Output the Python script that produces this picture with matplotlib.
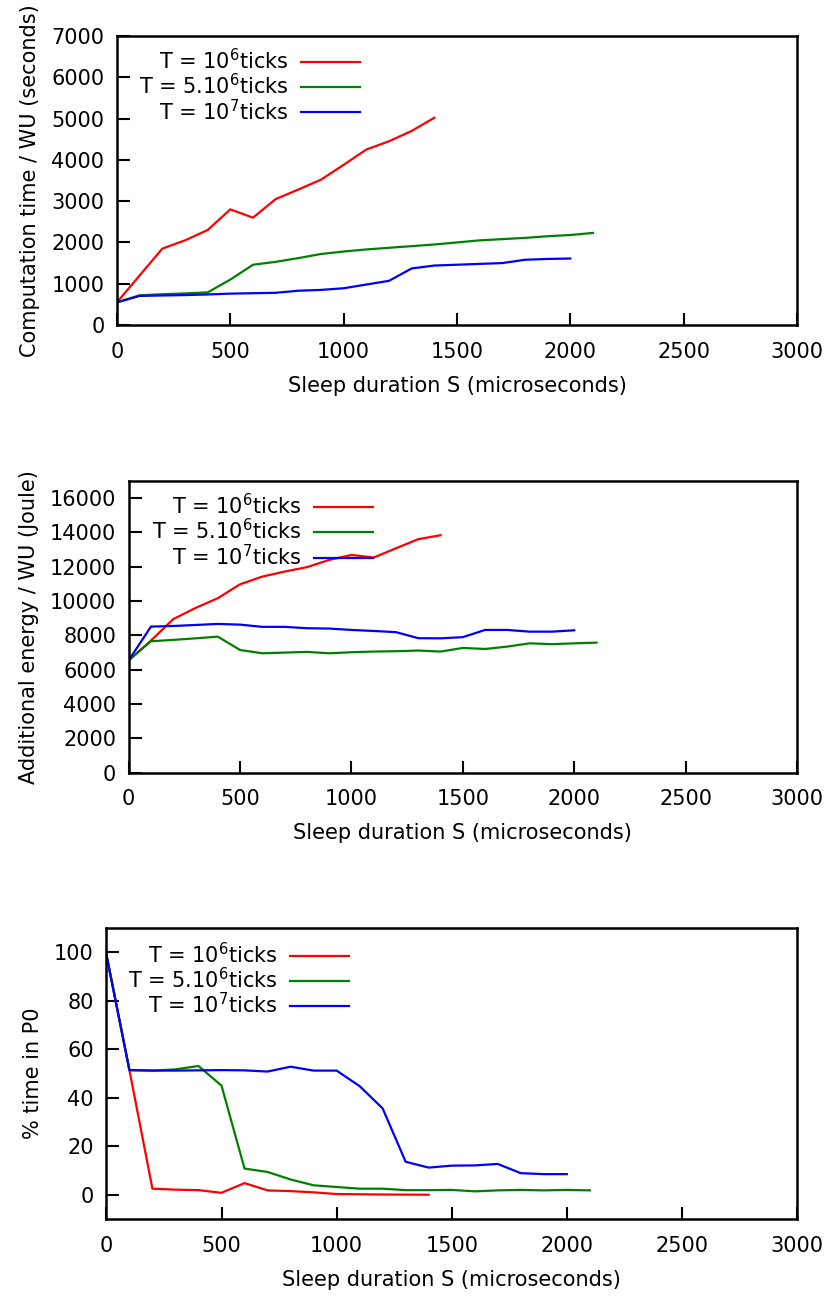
import numpy as np
import matplotlib
matplotlib.use("Agg")
import matplotlib.pyplot as plt

plt.rcParams['font.family'] = ['DejaVu Sans']
plt.rcParams['font.size'] = 15
plt.rcParams['mathtext.fontset'] = 'dejavusans'

# sleep durations (microseconds)
x_1e6 = np.arange(0, 1500, 100)
x_5e6 = np.arange(0, 2200, 100)
x_1e7 = np.arange(0, 2100, 100)

# computation time / WU (seconds)
time_1e6 = [550, 1200, 1850, 2050, 2300, 2800, 2600, 3050, 3280, 3520, 3880, 4250, 4450, 4700, 5020]
time_5e6 = [550, 720, 745, 765, 790, 1100, 1460, 1530, 1620, 1720, 1780, 1830, 1870, 1910, 1950,
            2000, 2050, 2080, 2110, 2150, 2180, 2230]
time_1e7 = [550, 704, 715, 725, 740, 760, 770, 780, 830, 850, 890, 980, 1070, 1370, 1440,
            1460, 1480, 1500, 1580, 1600, 1610]

# additional energy / WU (Joule)
energy_1e6 = [6550, 7700, 8950, 9600, 10170, 10980, 11430, 11720, 11980, 12400, 12690, 12540,
              13080, 13610, 13840]
energy_5e6 = [6550, 7660, 7740, 7830, 7930, 7150, 6960, 7000, 7040, 6960, 7020, 7060, 7080,
              7120, 7060, 7270, 7210, 7350, 7540, 7490, 7540, 7580]
energy_1e7 = [6550, 8515, 8550, 8610, 8670, 8630, 8500, 8500, 8420, 8400, 8320, 8260, 8190,
              7840, 7830, 7900, 8320, 8320, 8220, 8220, 8300]

# % time in P0
p0_1e6 = [99, 51.4, 2.5, 2.1, 1.9, 0.8, 4.8, 1.8, 1.5, 1.0, 0.3, 0.2, 0.1, 0.05, 0.0]
p0_5e6 = [99, 51.4, 51.2, 51.7, 53.1, 45.0, 10.8, 9.4, 6.3, 3.9, 3.2, 2.5, 2.5, 1.9, 1.9,
          2.0, 1.4, 1.8, 2.0, 1.8, 2.0, 1.8]
p0_1e7 = [99, 51.4, 51.2, 51.2, 51.3, 51.4, 51.3, 50.8, 52.8, 51.2, 51.2, 44.8, 35.6, 13.6,
          11.2, 12.0, 12.1, 12.7, 8.9, 8.5, 8.5]

labels = ['T = 10$^6$ticks', 'T = 5.10$^6$ticks', 'T = 10$^7$ticks']
colors = ['#ff0000', '#008000', '#0000ff']

W, H = 827, 1296
fig = plt.figure(figsize=(W / 100, H / 100), dpi=100)


def box(l, t, r, b):
    return [l / W, 1 - b / H, (r - l) / W, (b - t) / H]


panels = [
    (box(117, 36, 797, 325), [time_1e6, time_5e6, time_1e7], (0, 7000), np.arange(0, 7001, 1000),
     'Computation time / WU (seconds)', (0.357, 0.958)),
    (box(128.7, 481, 797, 772.7), [energy_1e6, energy_5e6, energy_1e7], (0, 17000),
     np.arange(0, 16001, 2000), 'Additional energy / WU (Joule)', (0.365, 0.958)),
    (box(106.4, 928, 797, 1219), [p0_1e6, p0_5e6, p0_1e7], (-10, 110), np.arange(0, 101, 20),
     '% time in P0', (0.351, 0.952)),
]
xs = [x_1e6, x_5e6, x_1e7]

for rect, ys, ylim, yticks, ylabel, anchor in panels:
    ax = fig.add_axes(rect)
    for x, y, c, lab in zip(xs, ys, colors, labels):
        ax.plot(x, y, color=c, lw=1.6, label=lab)
    ax.set_xlim(0, 3000)
    ax.set_ylim(*ylim)
    ax.set_xticks(np.arange(0, 3001, 500))
    ax.set_yticks(yticks)
    ax.set_xlabel('Sleep duration S (microseconds)', labelpad=10)
    ax.set_ylabel(ylabel, labelpad=8)
    ax.tick_params(direction='in', length=9, width=1.5, top=False, right=False)
    ax.tick_params(axis='x', pad=12)
    ax.tick_params(axis='y', pad=9)
    for s in ax.spines.values():
        s.set_linewidth(1.8)
    ax.legend(loc='upper right', bbox_to_anchor=anchor, frameon=False, markerfirst=False,
              borderpad=0, borderaxespad=0, handlelength=2.8, handletextpad=0.6,
              labelspacing=0.0, fontsize=15)

fig.savefig('out.png', dpi=100)
